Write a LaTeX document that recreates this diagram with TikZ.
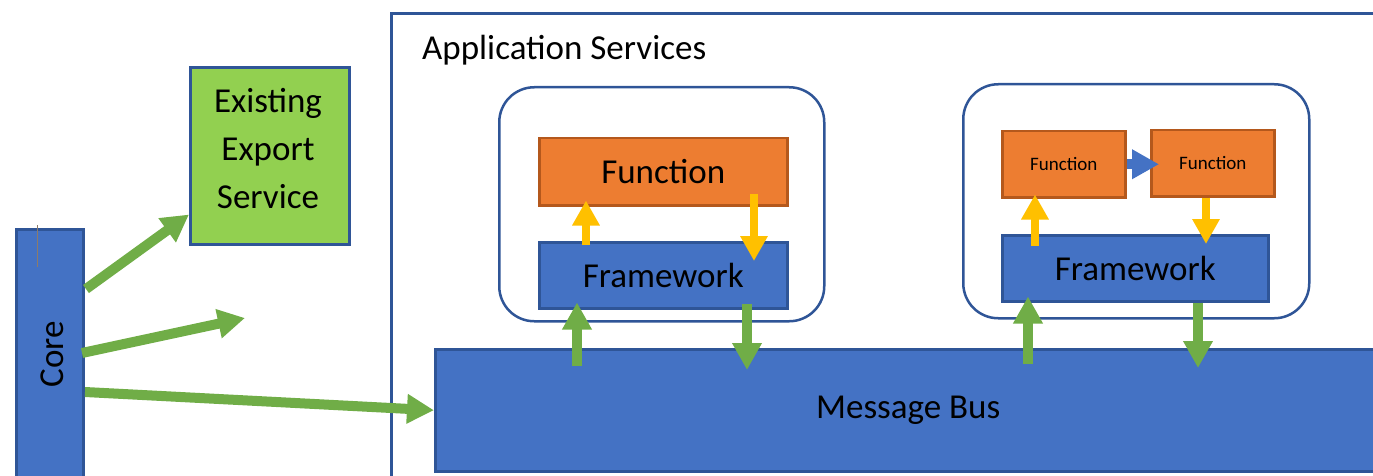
\documentclass[tikz,border=0pt]{standalone}
\usepackage{fontspec}
\setmainfont{Carlito}
\usetikzlibrary{arrows.meta}
\definecolor{msgblue}{HTML}{4472C4}
\definecolor{edgeblue}{HTML}{2F5597}
\definecolor{extgreen}{HTML}{92D050}
\definecolor{flowgreen}{HTML}{70AD47}
\definecolor{fnorange}{HTML}{ED7D31}
\definecolor{fnedge}{HTML}{B4581C}
\definecolor{flowyellow}{HTML}{FFC000}
\definecolor{tickgray}{HTML}{8C7B6B}
\newcommand{\bigtxt}{\fontsize{35}{48}\selectfont}
\newcommand{\smalltxt}{\fontsize{19}{23}\selectfont}
\tikzset{
  blockbox/.style={draw=edgeblue,line width=2.5pt,fill=msgblue,inner sep=0pt,anchor=north west,font=\bigtxt},
  fnbox/.style={draw=fnedge,line width=2.5pt,fill=fnorange,inner sep=0pt,anchor=north west,font=\bigtxt},
  svcbox/.style={draw=edgeblue,line width=2.5pt,fill=white,rounded corners=35pt,inner sep=0pt,anchor=north west},
  flow/.style={line width=10pt,-{Triangle[length=27pt,width=28pt]}},
  yflow/.style={flowyellow,line width=8pt,-{Triangle[length=25pt,width=26pt]}},
}

\begin{document}
\begin{tikzpicture}[x=1pt,y=-1pt]
\clip (0,0) rectangle (1373,476);
% application services frame
\node[draw=edgeblue,line width=3pt,inner sep=0pt,anchor=north west,minimum width=1100pt,minimum height=600pt] (apps) at (390,12) {};
\node[anchor=base west,inner sep=0pt,font=\bigtxt] (appstitle) at (422,60) {Application Services};

% core and existing service
\node[blockbox,minimum width=67pt,minimum height=280pt] (core) at (15,228) {};
\node[rotate=90,anchor=base,inner sep=0pt,font=\bigtxt] (coretxt) at (63,354) {Core};
\draw[tickgray,line width=1pt] (37,225) -- (37,267);
\node[blockbox,fill=extgreen,line width=3pt,minimum width=159pt,minimum height=177pt] (ees) at (189,66) {};
\node[inner sep=0pt,font=\bigtxt,align=center] (eestxt) at (268,149) {Existing\\Export\\Service};

% message bus
\node[blockbox,minimum width=946pt,minimum height=122pt] (bus) at (434,348) {Message Bus};

% first service
\node[svcbox,minimum width=325pt,minimum height=234pt] (svcA) at (498,86) {};
\node[fnbox,minimum width=248pt,minimum height=67pt] (fnA) at (538,137) {Function};
\node[blockbox,minimum width=248pt,minimum height=66pt] (fwA) at (538,241) {Framework};

% second service
\node[svcbox,minimum width=346pt,minimum height=234pt] (svcB) at (962,83) {};
\node[fnbox,font=\smalltxt,minimum width=123pt,minimum height=66pt] (fnB) at (1001,130) {Function};
\node[fnbox,font=\smalltxt,minimum width=123pt,minimum height=66pt] (fnC) at (1150,129) {Function};
\node[blockbox,minimum width=266pt,minimum height=66pt] (fwB) at (1001,234) {Framework};

% arrows out of core
\coordinate (c1) at (86,289);
\coordinate (c2) at (82,353);
\coordinate (c3) at (85,392);
\coordinate (spare) at (245,318);
\draw[flow,flowgreen] (c1) -- (ees);
\draw[flow,flowgreen] (c2) -- (spare);
\draw[flow,flowgreen] (c3) -- (bus.west);

% bus <-> framework <-> function
\draw[flow,flowgreen,shorten <=-18pt,shorten >=-7pt] (577,0 |- bus.north) -- (577,0 |- fwA.south);
\draw[flow,flowgreen,shorten <=-6pt,shorten >=-22pt] (747,0 |- fwA.south) -- (747,0 |- bus.north);
\draw[yflow,shorten <=-4pt,shorten >=-6pt] (586,0 |- fwA.north) -- (586,0 |- fnA.south);
\draw[yflow,shorten <=-13pt,shorten >=-20pt] (754,0 |- fnA.south) -- (754,0 |- fwA.north);

\draw[flow,flowgreen,shorten <=-16pt,shorten >=-6pt] (1028,0 |- bus.north) -- (1028,0 |- fwB.south);
\draw[flow,flowgreen,shorten >=-20pt] (1198,0 |- fwB.south) -- (1198,0 |- bus.north);
\draw[yflow,shorten <=-12pt,shorten >=-4pt] (1035,0 |- fwB.north) -- (1035,0 |- fnB.south);
\draw[yflow,shorten >=-10pt] (1206,0 |- fnC.south) -- (1206,0 |- fwB.north);
\draw[flow,msgblue,shorten >=-9pt] (fnB.east) -- (fnB.east -| fnC.west);
\end{tikzpicture}
\end{document}
